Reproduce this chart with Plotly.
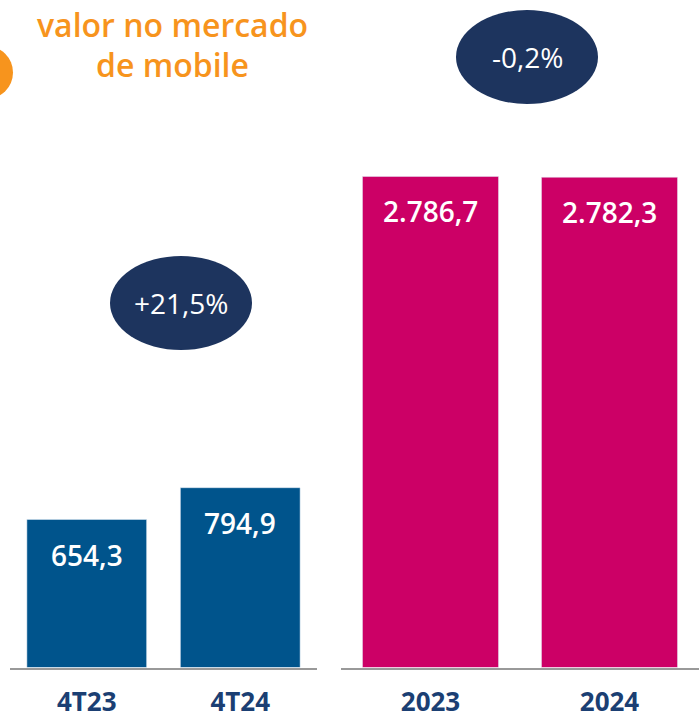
import plotly.graph_objects as go

quarters = ["4T23", "4T24"]
quarter_values = [654.3, 794.9]
years = ["2023", "2024"]
year_values = [2786.7, 2782.3]
quarter_labels = ["654,3", "794,9"]
year_labels = ["2.786,7", "2.782,3"]
growth_quarter = "+21,5%"
growth_year = "-0,2%"
title_lines = ["valor no mercado", "de mobile"]

W, H = 699, 723
BLUE = "#00548C"
MAGENTA = "#CC0066"
NAVY = "#1D345E"
ORANGE = "#F7941D"
TICK = "#1B3F73"
FONT = "Open Sans"

base_px = 667.5
y0 = 1 - base_px / H

fig = go.Figure()
fig.add_trace(go.Bar(x=quarters, y=quarter_values, marker_color=BLUE, width=0.78,
                     xaxis="x", yaxis="y", showlegend=False, hoverinfo="skip"))
fig.add_trace(go.Bar(x=years, y=year_values, marker_color=MAGENTA, width=0.76,
                     xaxis="x2", yaxis="y2", showlegend=False, hoverinfo="skip"))

ann = []
for i, (v, t) in enumerate(zip(quarter_values, quarter_labels)):
    ann.append(dict(x=i, y=v, xref="x", yref="y", text=t, showarrow=False, yanchor="top",
                    yshift=-14, font=dict(family=FONT, size=28, color="white", weight=600)))
for i, (v, t) in enumerate(zip(year_values, year_labels)):
    ann.append(dict(x=i, y=v, xref="x2", yref="y2", text=t, showarrow=False, yanchor="top",
                    yshift=-14, font=dict(family=FONT, size=28, color="white", weight=600)))

def px2x(p):
    return p / W

def px2y(p):
    return 1 - p / H

shapes = []
for cx, cy, txt in [(181, 303, growth_quarter), (527, 57, growth_year)]:
    shapes.append(dict(type="circle", xref="paper", yref="paper",
                       x0=px2x(cx - 71), x1=px2x(cx + 71), y0=px2y(cy + 47), y1=px2y(cy - 47),
                       fillcolor=NAVY, line=dict(width=0), layer="above"))
    ann.append(dict(x=px2x(cx), y=px2y(cy), xref="paper", yref="paper", text=txt, showarrow=False,
                    xanchor="center", yanchor="middle",
                    font=dict(family=FONT, size=28, color="white", weight=500)))
shapes.append(dict(type="circle", xref="paper", yref="paper",
                   x0=px2x(-40), x1=px2x(13), y0=px2y(99), y1=px2y(46),
                   fillcolor=ORANGE, line=dict(width=0)))
for i, line in enumerate(title_lines):
    ann.append(dict(x=px2x(172), y=px2y(25 + 39 * i), xref="paper", yref="paper", text=line,
                    showarrow=False, xanchor="center", yanchor="middle",
                    font=dict(family=FONT, size=32, color=ORANGE, weight=600)))

fig.update_layout(
    width=W, height=H, margin=dict(l=0, r=0, t=0, b=0, autoexpand=False),
    paper_bgcolor="white", plot_bgcolor="white",
    font=dict(family=FONT),
    xaxis=dict(type="category", domain=[10 / W, 317 / W], range=[-0.5, 1.5], showline=True,
               linecolor="#999999", linewidth=2, ticks="", showgrid=False, anchor="y",
               ticklabelstandoff=10, automargin=False,
               tickfont=dict(family=FONT, size=26, color=TICK, weight=700)),
    xaxis2=dict(type="category", domain=[341 / W, 1], range=[-0.5, 1.5], showline=True,
                linecolor="#999999", linewidth=2, ticks="", showgrid=False, anchor="y2",
                ticklabelstandoff=10, automargin=False,
                tickfont=dict(family=FONT, size=26, color=TICK, weight=700)),
    yaxis=dict(domain=[y0, 1], range=[0, base_px / 0.2262], visible=False, showgrid=False,
               anchor="x", automargin=False),
    yaxis2=dict(domain=[y0, 1], range=[0, base_px / 0.1762], visible=False, showgrid=False,
                anchor="x2", automargin=False),
    annotations=ann, shapes=shapes,
)

fig.write_html("out.html", config={"displayModeBar": False},
               post_script="document.body.style.margin='0';")
